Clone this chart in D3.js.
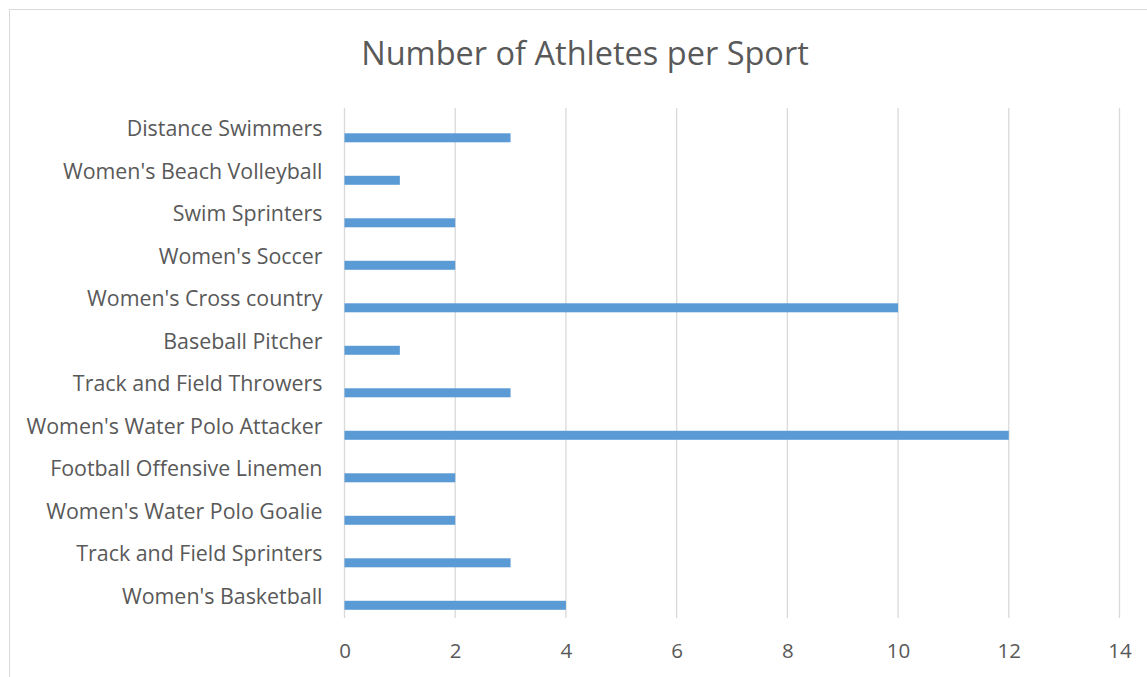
<!DOCTYPE html>
<html>
<head>
<meta charset="utf-8">
<script src="https://cdn.jsdelivr.net/npm/d3@7"></script>
<style>
  html, body { margin: 0; padding: 0; background: #fff; }
  svg { display: block; }
  text { font-family: "Open Sans", "Noto Sans", sans-serif; fill: #595959; }
</style>
</head>
<body>
<svg id="chart" width="1147" height="677"></svg>
<script>
// Athletes per sport, listed top to bottom as shown
const sports = [
  "Distance Swimmers",
  "Women's Beach Volleyball",
  "Swim Sprinters",
  "Women's Soccer",
  "Women's Cross country",
  "Baseball Pitcher",
  "Track and Field Throwers",
  "Women's Water Polo Attacker",
  "Football Offensive Linemen",
  "Women's Water Polo Goalie",
  "Track and Field Sprinters",
  "Women's Basketball"
];
const athletes = [3, 1, 2, 2, 10, 1, 3, 12, 2, 2, 3, 4];
const xTicks = [0, 2, 4, 6, 8, 10, 12, 14];
const chartTitle = "Number of Athletes per Sport";

const svg = d3.select("#chart");
const W = 1147, H = 677;

// Chart frame
svg.append("rect")
  .attr("x", 9.5).attr("y", 9.5)
  .attr("width", W + 10).attr("height", H + 10)
  .attr("fill", "#fff").attr("stroke", "#d9d9d9").attr("stroke-width", 1);

const plot = { left: 344.5, right: 1119.5, top: 108, bottom: 618 };

const x = d3.scaleLinear().domain([0, 14]).range([plot.left, plot.right]);
const y = d3.scaleBand().domain(sports).range([plot.top, plot.bottom]).paddingInner(0).paddingOuter(0);

// Title
svg.append("text")
  .attr("x", 585).attr("y", 65)
  .attr("text-anchor", "middle")
  .style("font-size", "32.5px")
  .text(chartTitle);

// Vertical gridlines
svg.append("g")
  .selectAll("line")
  .data(xTicks)
  .join("line")
  .attr("x1", d => x(d)).attr("x2", d => x(d))
  .attr("y1", plot.top).attr("y2", plot.bottom)
  .attr("stroke", "#d9d9d9").attr("stroke-width", 1.3);

// X axis labels
const xAxis = d3.axisBottom(x).tickValues(xTicks).tickSize(0).tickPadding(0);
const gx = svg.append("g")
  .attr("transform", `translate(0, ${plot.bottom + 25})`)
  .call(xAxis);
gx.select(".domain").remove();
gx.selectAll("text")
  .style("font-size", "20.5px")
  .attr("fill", "#595959")
  .attr("dy", "0.71em");

// Y axis labels
const yAxis = d3.axisLeft(y).tickSize(0).tickPadding(0);
const gy = svg.append("g")
  .attr("transform", `translate(${plot.left - 22}, 0)`)
  .call(yAxis);
gy.select(".domain").remove();
gy.selectAll("text")
  .style("font-size", "21.4px")
  .attr("fill", "#595959");

// Bars sit in the lower part of each category band
const bw = y.bandwidth();
svg.append("g")
  .selectAll("rect")
  .data(sports.map((s, i) => ({ sport: s, value: athletes[i] })))
  .join("rect")
  .attr("x", x(0))
  .attr("y", d => y(d.sport) + bw * 0.595)
  .attr("width", d => x(d.value) - x(0))
  .attr("height", bw * 0.212)
  .attr("fill", "#5b9bd5");
</script>
</body>
</html>
